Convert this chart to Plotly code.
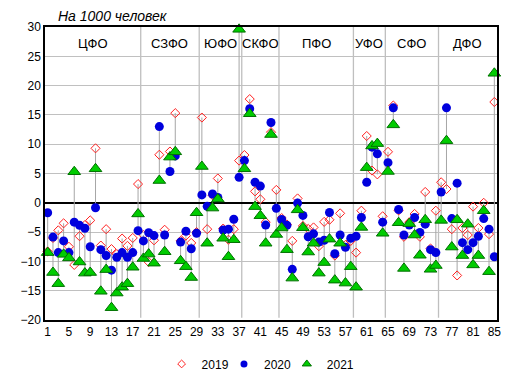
import plotly.graph_objects as go

regions = list(range(1, 86))

v2019 = [-8.3, -6.0, -4.7, -3.5, -7.5, -10.6, -5.7, -3.8, -3.0, 9.3,
         -7.3, -4.5, -7.9, -8.75, -6.1, -7.35, -6.0, 3.2, -5.5, -10.1,
         -6.4, 8.2, -4.6, 8.75, 15.3, -6.5, -5.6, -6.85, -5.0, 14.55,
         -4.5, 1.3, 4.15, -4.4, -6.3, -4.5, 7.2, 8.15, 17.7, 1.95,
         0.6, -3.3, 12.05, 2.2, -2.6, -3.7, -6.5, 0.75, -3.95, -4.45,
         -4.2, -7.4, -3.25, -2.9, -9.0, -1.8, -7.2, -6.5, -8.5, -1.35,
         11.4, 5.5, 4.85, -2.3, 8.7, 16.6, -1.3, -5.8, -3.3, -1.9,
         -5.8, 1.85, -7.8, -1.35, 3.5, 2.35, -4.5, -12.4, -4.3, -5.5,
         -0.65, -4.3, 0.0, -5.35, 17.2]

v2020 = [-1.7, -5.85, -8.5, -6.5, -8.5, -3.3, -3.85, -4.35, -7.5, -0.85,
         -8.0, -9.0, -11.5, -9.3, -8.5, -9.3, -8.5, -4.75, -6.5, -5.1,
         -5.6, 13.0, -5.5, 5.35, 8.0, -6.7, -4.85, -7.85, -5.2, 1.35,
         -0.6, 1.5, 0.9, -4.65, -4.5, -2.8, 4.35, 7.2, 16.05, 3.5,
         2.85, -3.8, 13.7, -0.95, -2.85, -3.85, -11.35, -0.05, -2.15, -5.8,
         -5.3, -6.7, -6.4, -1.65, -8.7, -5.5, -7.6, -6.05, -5.7, -2.5,
         3.5, 9.5, 8.35, -3.3, 6.85, 16.2, -1.15, -5.5, -3.8, -2.5,
         -5.05, -3.65, -8.0, -8.5, 1.85, 16.2, -2.7, 3.35, -6.8, -8.0,
         -6.8, -5.7, -2.7, -4.5, -9.2]

v2021 = [-8.5, -11.9, -13.8, -8.8, -9.4, 5.3, -10.1, -12.0, -11.9, 5.8,
         -15.1, -11.4, -17.9, -15.4, -14.4, -13.8, -11.0, -1.9, -9.5, -8.75,
         -10.3, 3.8, -8.35, 7.8, 8.7, -9.9, -10.9, -12.75, -1.7, 6.2,
         -6.9, -0.9, 0.65, -6.05, -9.2, -6.3, 29.6, 5.8, 15.2, -0.65,
         -2.2, -6.9, 11.65, -5.4, -4.3, -8.0, -12.85, -1.2, -4.25, -8.4,
         -6.9, -12.0, -10.2, -6.2, -13.2, -6.9, -13.7, -10.9, -14.4, -4.2,
         6.0, 9.7, 10.1, -5.2, 5.35, 13.3, -3.4, -11.2, -3.55, -5.5,
         -8.95, -2.9, -11.35, -10.7, -3.0, 10.6, -7.55, -2.9, -9.0, -3.65,
         -10.6, -9.0, -1.35, -11.75, 22.1]

districts = ["ЦФО", "СЗФО", "ЮФО", "СКФО", "ПФО", "УФО", "СФО", "ДФО"]
district_sizes = [18, 11, 8, 7, 14, 6, 10, 11]

x_ticks = list(range(1, 86, 4))
y_ticks = list(range(-20, 31, 5))
title_text = "На 1000 человек"

FONT = "Liberation Sans, Arial, sans-serif"

fig = go.Figure()

# high-low lines
hx, hy = [], []
for i, a, b, c in zip(regions, v2019, v2020, v2021):
    hx += [i, i, None]
    hy += [min(a, b, c), max(a, b, c), None]
fig.add_trace(go.Scatter(x=hx, y=hy, mode="lines",
                         line=dict(color="#A6A6A6", width=1),
                         showlegend=False, hoverinfo="skip"))

fig.add_trace(go.Scatter(x=regions, y=v2019, mode="markers", name="2019",
                         marker=dict(symbol="diamond-open", size=7,
                                     color="#FF2020", line=dict(width=1)),
                         showlegend=False, cliponaxis=False))
fig.add_trace(go.Scatter(x=regions, y=v2020, mode="markers", name="2020",
                         marker=dict(symbol="circle", size=9, color="#0000DD",
                                     line=dict(width=0)),
                         showlegend=False, cliponaxis=False))
fig.add_trace(go.Scatter(x=regions, y=v2021, mode="markers", name="2021",
                         marker=dict(symbol="triangle-up", size=11, color="#00CC00",
                                     line=dict(width=1, color="#007000")),
                         showlegend=False, cliponaxis=False))

# legend entries (smaller symbols like the original), one legend box each
fig.add_trace(go.Scatter(x=[None], y=[None], mode="markers", name="2019",
                         legend="legend",
                         marker=dict(symbol="diamond-open", size=6, color="#FF2020",
                                     line=dict(width=1))))
fig.add_trace(go.Scatter(x=[None], y=[None], mode="markers", name="2020",
                         legend="legend2",
                         marker=dict(symbol="circle", size=7, color="#0000DD")))
fig.add_trace(go.Scatter(x=[None], y=[None], mode="markers", name="2021",
                         legend="legend3",
                         marker=dict(symbol="triangle-up", size=8, color="#00CC00",
                                     line=dict(width=1, color="#007000"))))

# district separators and labels
shapes = []
annotations = []
start = 1
for name, n in zip(districts, district_sizes):
    end = start + n - 1
    annotations.append(dict(x=(start + end) / 2, y=27.2, xref="x", yref="y",
                            text=name, showarrow=False,
                            font=dict(family=FONT, size=13, color="black")))
    if end < 85:
        shapes.append(dict(type="line", xref="x", yref="y",
                           x0=end + 0.5, x1=end + 0.5, y0=-19.6, y1=30,
                           line=dict(color="#BFBFBF", width=1.3), layer="below"))
    start = end + 1

annotations.append(dict(x=0.15, y=1 + 11 / 299, xref="paper", yref="paper",
                        xanchor="center", yanchor="middle",
                        text="<i>" + title_text + "</i>", showarrow=False,
                        font=dict(family=FONT, size=14, color="black")))


def leg(x):
    return dict(orientation="h", x=x, xanchor="left", y=-0.15, yanchor="middle",
                font=dict(family=FONT, size=12), itemwidth=30,
                bgcolor="rgba(0,0,0,0)")


# page body has an 8px margin, so the figure is sized/offset to compensate
fig.update_layout(
    width=505, height=382,
    margin=dict(l=37, r=14, t=18, b=65),
    plot_bgcolor="white", paper_bgcolor="white",
    font=dict(family=FONT, size=12, color="black"),
    shapes=shapes, annotations=annotations,
    legend=leg(0.258), legend2=leg(0.396), legend3=leg(0.535),
    xaxis=dict(range=[0.5, 85.5], tickvals=x_ticks, showgrid=False,
               showline=True, linecolor="black", linewidth=1.5, mirror=True,
               zeroline=False, ticks="", tickfont=dict(size=12)),
    yaxis=dict(range=[-20, 30], tickvals=y_ticks, showgrid=True,
               gridcolor="#C0C0C0", gridwidth=1,
               showline=True, linecolor="black", linewidth=1.5, mirror=True,
               zeroline=True, zerolinecolor="black", zerolinewidth=2,
               ticks="", tickfont=dict(size=12)),
)

fig.write_html("out.html")
